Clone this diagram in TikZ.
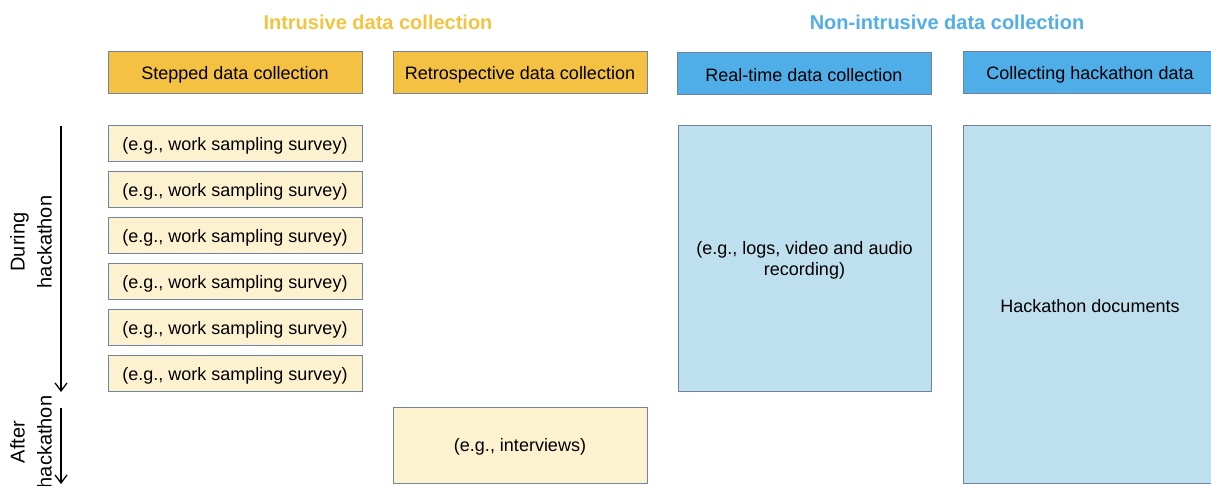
\documentclass[tikz,border=0pt]{standalone}
\usepackage{fontspec}
\setmainfont{Liberation Sans}
\usetikzlibrary{arrows.meta}
\definecolor{orangetitle}{HTML}{F5C342}
\definecolor{bluetitle}{HTML}{52ADE8}
\definecolor{orangebox}{HTML}{F4C143}
\definecolor{yellowbox}{HTML}{FDF2D0}
\definecolor{bluebox}{HTML}{4FAEE8}
\definecolor{lightblue}{HTML}{BEDFEE}
\definecolor{edgegray}{HTML}{7083A0}
\tikzset{
  base/.style={draw=edgegray, line width=1pt, inner sep=0pt},
  txt/.style={yshift=-1.5pt, inner sep=0pt, align=center, font=\fontsize{18}{21.5}\selectfont, text=black},
  ohead/.style={base, fill=orangebox},
  bhead/.style={base, fill=bluebox},
  ybox/.style={base, fill=yellowbox},
  lbbox/.style={base, fill=lightblue},
  title/.style={font=\fontsize{20}{24}\selectfont\bfseries},
  sidelbl/.style={rotate=90, align=center, font=\fontsize{20}{27}\selectfont},
  timearrow/.style={line width=1.3pt, -{Straight Barb[length=8pt,width=12pt,line width=1.3pt]}}
}
\begin{document}
\begin{tikzpicture}[x=1pt,y=-1pt]
\useasboundingbox (0,0) rectangle (1211,486);
\clip (0,0) rectangle (1211,486);
% titles
\node[title, text=orangetitle] (t1) at (378,22) {Intrusive data collection};
\node[title, text=bluetitle] (t2) at (947,22) {Non-intrusive data collection};
% header boxes
\node[ohead, minimum width=254pt, minimum height=42pt, label={[txt]center:Stepped data collection}] (h1) at (235,73) {};
\node[ohead, minimum width=254pt, minimum height=42pt, label={[txt]center:Retrospective data collection}] (h2) at (520,73) {};
\node[bhead, minimum width=254pt, minimum height=42pt, label={[txt]center:Real-time data collection}] (h3) at (804,74) {};
\node[bhead, minimum width=254pt, minimum height=42pt, label={[txt]center:Collecting hackathon data}] (h4) at (1090,73) {};
% stepped boxes
\foreach \i/\y in {1/144,2/190,3/236,4/282,5/328,6/374}{
  \node[ybox, minimum width=254pt, minimum height=36pt, label={[txt]center:(e.g., work sampling survey)}] (s\i) at (235,\y) {};
}
% interviews
\node[ybox, minimum width=254pt, minimum height=75pt, label={[txt]center:(e.g., interviews)}] (iv) at (520,445.5) {};
% real-time big box
\node[lbbox, minimum width=253pt, minimum height=266pt, label={[txt]center:(e.g., logs, video and audio\\recording)}] (rt) at (804.5,259) {};
% hackathon documents
\node[lbbox, minimum width=254pt, minimum height=357pt, label={[txt]center:Hackathon documents}] (hd) at (1090,304.5) {};
% side arrows
\coordinate (d1) at (61,126);
\coordinate (d2) at (61,392);
\coordinate (a1) at (61,408);
\coordinate (a2) at (61,484);
\draw[timearrow] (d1) -- (d2);
\draw[timearrow] (a1) -- (a2);
\node[sidelbl] (dl) at (31,242) {During\\hackathon};
\node[sidelbl] (al) at (31,442) {After\\hackathon};
\end{tikzpicture}
\end{document}
